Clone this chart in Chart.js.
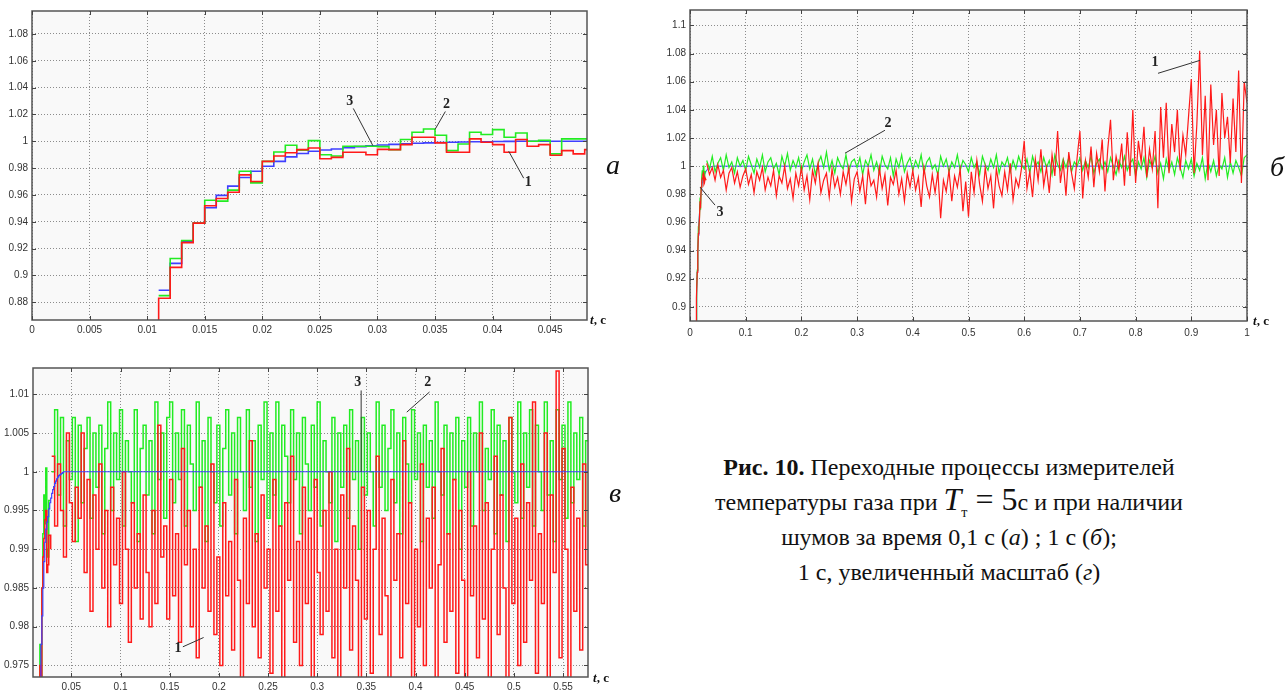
<!DOCTYPE html>
<html>
<head>
<meta charset="utf-8">
<script src="https://cdn.jsdelivr.net/npm/chart.js@4.4.0/dist/chart.umd.min.js"></script>
<style>
    body { margin: 0; background: #fff; width: 1288px; height: 690px; position: relative; overflow: hidden; font-family: "Liberation Serif", "DejaVu Serif", serif; color: #111; }
    canvas { position: absolute; }
    .letter { position: absolute; font-style: italic; font-size: 28px; line-height: 1; transform: translate(-50%, -50%); }
    .tc { position: absolute; font-size: 13px; font-weight: bold; line-height: 1; white-space: nowrap; }
    .cap { position: absolute; left: 669px; width: 560px; height: 35px; line-height: 35px; text-align: center; font-size: 24px; white-space: nowrap; }
    .m { font-size: 32px; line-height: 0; }
    .sub { font-size: 14px; line-height: 0; position: relative; top: 7px; }
</style>
</head>
<body>
<canvas id="chartA" width="620" height="345" style="left:0;top:0"></canvas>
<canvas id="chartB" width="638" height="345" style="left:650px;top:0"></canvas>
<canvas id="chartC" width="620" height="345" style="left:0;top:345px"></canvas>

<div class="letter" style="left:613px;top:165px">а</div>
<div class="letter" style="left:1277px;top:167px">б</div>
<div class="letter" style="left:615px;top:493px">в</div>

<div class="tc" style="left:590px;top:313px"><i>t</i>, с</div>
<div class="tc" style="left:1253px;top:314px"><i>t</i>, с</div>
<div class="tc" style="left:593px;top:671px"><i>t</i>, с</div>

<div class="cap" style="top:450px"><b>Рис. 10.</b> Переходные процессы измерителей</div>
<div class="cap" style="top:485px">температуры газа при <span class="m"><i>T</i></span><span class="sub">т</span><span class="m"> = 5</span>с и при наличии</div>
<div class="cap" style="top:520px">шумов за время 0,1 с (<i>а</i>) ; 1 с (<i>б</i>);</div>
<div class="cap" style="top:555px">1 с, увеличенный масштаб (<i>г</i>)</div>

<script>
// (а) first 0.05 s, sampled every 1 ms
const aTime = [0.011, 0.012, 0.013, 0.014, 0.015, 0.016, 0.017, 0.018, 0.019, 0.020,
    0.021, 0.022, 0.023, 0.024, 0.025, 0.026, 0.027, 0.028, 0.029, 0.030,
    0.031, 0.032, 0.033, 0.034, 0.035, 0.036, 0.037, 0.038, 0.039, 0.040,
    0.041, 0.042, 0.043, 0.044, 0.045, 0.046, 0.047, 0.048, 0.049];
const aBlue = [0.889, 0.909, 0.925, 0.939, 0.9505, 0.9597, 0.9666, 0.973, 0.9777, 0.9814,
    0.985, 0.9884, 0.9909, 0.9926, 0.9935, 0.9942, 0.9952, 0.996, 0.9966, 0.9972,
    0.9977, 0.9981, 0.9985, 0.9988, 0.9991, 0.9993, 0.9995, 0.9996, 0.9997, 0.9998,
    0.9999, 1, 1, 1, 1, 1, 1, 1, 1];
const aGreen = [0.885, 0.9126, 0.926, 0.939, 0.956, 0.9554, 0.9636, 0.9777, 0.969, 0.985,
    0.992, 0.997, 0.9933, 1.0005, 0.990, 0.989, 0.9963, 0.9963, 0.9963, 0.996,
    0.9938, 1.0013, 1.0067, 1.0092, 1.0045, 0.993, 0.998, 1.0067, 1.005, 1.0087,
    1.003, 1.0062, 1.0, 1.0007, 0.9906, 1.0018, 1.0018, 1.0018, 1.0018];
const aRed = [0.883, 0.906, 0.9245, 0.939, 0.952, 0.9574, 0.962, 0.975, 0.970, 0.985,
    0.989, 0.9914, 0.9938, 0.995, 0.987, 0.988, 0.9918, 0.9918, 0.990, 0.994,
    0.9938, 0.9975, 1.003, 1.003, 0.9988, 0.9918, 0.9918, 1.0018, 0.9993, 0.9975,
    0.9918, 1.0013, 0.9963, 0.9975, 0.9896, 0.993, 0.9906, 0.9938, 0.9938];
const redStart = 0.86;      // red comes up from below the axis at 0.011 s
const riseCount = 19;       // samples 0.011..0.029 are shared by (б) and (в)
const steadyT = [1.0];
const steadyV = [1.0];

// (б) noise part, from 0.030 s every 5 ms
const bStart = 0.030, bStep = 0.005;
const bRed = [1.002, 0.994, 0.999, 0.990, 1.001, 0.992, 0.997, 0.983, 0.995, 0.999, 0.988, 0.996, 0.985, 0.993,
    0.998, 0.987, 0.994, 0.981, 0.996, 0.990, 0.999, 0.983, 0.992, 0.986, 0.997, 0.979, 0.993, 0.988, 1.000, 0.984, 0.991, 0.977, 0.995, 0.986,
    0.999, 0.983, 0.993, 0.976, 0.997, 0.988, 1.002, 0.981, 0.990, 0.995, 0.978, 0.998, 0.985, 0.992, 0.980, 0.996, 0.987, 0.999, 0.975, 0.991,
    0.996, 0.982, 0.993, 0.973, 0.998, 0.986, 0.990, 0.978, 0.999, 0.984, 0.994, 0.972, 0.992, 0.987, 0.997, 0.980, 0.991, 0.975, 0.995, 0.985,
    0.997, 0.983, 0.992, 0.971, 0.999, 0.986, 0.978, 0.994, 0.981, 0.996, 0.963, 0.990, 0.982, 0.997, 0.975, 0.993, 0.985, 0.998, 0.968, 0.989,
    0.964, 0.996, 0.981, 1.004, 0.987, 0.975, 0.999, 0.984, 0.993, 0.970, 0.998, 0.986, 0.979, 0.996, 0.983, 1.002, 0.976, 0.991, 0.985, 0.998,
    1.018, 0.984, 0.996, 0.978, 1.005, 0.990, 1.012, 0.986, 0.999, 0.981, 1.008, 0.993, 1.025, 0.988, 1.003, 0.979, 1.010, 0.995, 0.984, 1.006,
    1.025, 0.977, 1.004, 0.992, 1.014, 0.985, 1.009, 0.996, 1.019, 0.982, 1.012, 1.033, 0.990, 1.007, 0.997, 1.016, 0.986, 1.024, 0.993, 1.040,
    0.988, 1.018, 1.003, 1.028, 0.992, 1.012, 0.998, 1.025, 0.970, 1.042, 1.006, 1.045, 0.995, 1.030, 1.010, 1.040, 0.997, 1.022, 1.008, 1.035,
    1.062, 0.995, 1.030, 1.082, 1.008, 1.050, 0.990, 1.058, 1.015, 1.040, 0.993, 1.052, 1.020, 1.035, 1.002, 1.048, 1.010, 1.068, 0.988, 1.060, 1.045];
const bGreen = [1.004, 0.998, 1.007, 0.996, 1.002, 1.006, 0.997, 1.008, 0.999, 1.003, 0.995, 1.006, 1.000, 1.004,
    0.997, 1.007, 1.001, 0.995, 1.005, 0.999, 1.008, 0.996, 1.003, 1.006, 0.998, 1.002, 0.994, 1.007, 1.000, 1.009, 0.997, 1.004, 0.999, 1.006,
    0.996, 1.003, 1.008, 0.998, 1.005, 0.994, 1.002, 1.007, 0.999, 1.010, 0.997, 1.004, 0.995, 1.006, 1.001, 0.998, 1.008, 0.996, 1.003, 1.005,
    0.999, 1.006, 0.994, 1.004, 1.000, 1.008, 0.997, 1.003, 0.995, 1.007, 1.001, 0.998, 1.006, 0.993, 1.005, 0.999, 1.008, 0.996, 1.002, 1.006,
    0.997, 1.004, 0.999, 1.008, 0.995, 1.003, 1.006, 0.998, 1.001, 0.994, 1.007, 1.000, 1.005, 0.996, 1.003, 0.999, 1.008, 0.997, 1.004, 1.001,
    0.996, 1.006, 0.999, 1.003, 0.994, 1.007, 1.001, 0.997, 1.005, 0.999, 1.008, 0.995, 1.003, 1.000, 1.006, 0.996, 1.004, 0.998, 1.007, 1.001,
    0.998, 1.005, 0.995, 1.007, 1.000, 1.003, 0.996, 1.006, 0.999, 1.004, 0.994, 1.008, 1.001, 0.997, 1.005, 0.999, 1.006, 0.996, 1.003, 1.000,
    1.006, 0.997, 1.004, 0.999, 1.007, 0.995, 1.002, 1.005, 0.998, 1.003, 0.996, 1.006, 1.000, 0.994, 1.004, 0.999, 1.007, 0.997, 1.002, 1.005,
    0.993, 1.003, 0.998, 1.006, 0.992, 1.004, 0.999, 1.007, 0.995, 1.002, 0.991, 1.005, 0.997, 1.003, 0.994, 1.006, 0.999, 0.992, 1.004, 0.998,
    1.005, 0.993, 1.002, 0.997, 1.006, 0.991, 1.003, 0.996, 1.004, 0.993, 1.001, 0.998, 1.006, 0.992, 1.003, 0.995, 1.004, 0.999, 0.993, 1.006, 1.008];

// (в) noise part, from 0.030 s every 3 ms
const cStart = 0.030, cStep = 0.003;
const cRed = [1.002, 0.993, 1.001, 0.995, 0.989, 1.005, 0.996, 0.991, 0.998, 0.994, 1.005, 0.987, 0.999, 0.982, 0.997, 0.990, 1.001, 0.985, 0.995, 0.980,
    0.998, 0.988, 0.994, 0.983, 1.000, 0.990, 0.978, 0.996, 0.985, 0.992, 0.981, 0.997, 0.987, 0.980, 0.995, 0.983, 1.006, 0.989, 0.993, 0.981,
    0.999, 0.984, 0.992, 0.978, 1.003, 0.988, 0.995, 0.980, 0.990, 0.976, 0.998, 0.985, 0.993, 0.982, 1.001, 0.979, 0.989, 0.975, 0.996, 0.984,
    0.991, 0.977, 0.999, 0.986, 0.973, 0.994, 0.983, 1.004, 0.980, 0.992, 0.976, 0.997, 0.985, 0.990, 0.974, 0.999, 0.982, 0.993, 0.972, 0.996,
    0.986, 1.002, 0.978, 0.991, 0.975, 0.998, 0.983, 0.994, 0.973, 0.999, 0.987, 0.979, 0.995, 0.982, 1.000, 0.976, 0.990, 0.972, 0.997, 0.985,
    1.003, 0.977, 0.993, 0.986, 0.972, 0.998, 0.981, 0.995, 0.974, 0.990, 1.002, 0.979, 0.994, 0.984, 0.973, 0.999, 0.986, 0.992, 0.976, 1.004,
    0.983, 0.996, 0.972, 0.990, 0.980, 1.001, 0.975, 0.994, 0.985, 0.998, 0.973, 0.988, 1.003, 0.978, 0.992, 0.982, 0.999, 0.974, 0.995, 0.986,
    0.973, 1.000, 0.984, 0.993, 0.976, 1.005, 0.981, 0.996, 0.972, 0.990, 1.002, 0.979, 0.997, 0.985, 0.973, 1.007, 0.983, 0.994, 0.975, 1.001,
    0.978, 0.996, 0.986, 1.009, 0.974, 0.992, 0.983, 1.005, 0.972, 0.997, 0.987, 1.013, 0.976, 1.003, 0.990, 0.973, 0.998, 0.982, 0.994, 0.977, 1.001, 0.988, 0.993];
const cGreen = [1.000, 1.008, 0.997, 1.007, 0.993, 1.004, 0.999, 1.007, 0.991, 1.006, 0.996, 1.003, 1.007, 0.994, 1.005, 0.998, 1.006, 0.992, 1.003, 1.009,
    0.995, 1.005, 0.999, 1.008, 0.993, 1.004, 1.000, 0.996, 1.008, 0.991, 1.003, 1.006, 0.997, 1.004, 0.992, 1.009, 0.999, 1.005, 0.994, 1.007,
    1.009, 0.996, 1.005, 0.999, 1.008, 0.993, 1.006, 1.001, 0.995, 1.009, 0.998, 1.004, 0.991, 1.007, 1.000, 0.996, 1.006, 0.993, 1.003, 1.008,
    0.997, 1.005, 0.992, 1.007, 1.000, 0.995, 1.008, 0.998, 1.004, 0.991, 1.006, 0.999, 1.009, 0.994, 1.005, 0.997, 1.009, 0.993, 1.006, 1.002,
    0.996, 1.008, 0.999, 1.005, 0.992, 1.007, 1.001, 0.995, 1.006, 0.998, 1.009, 0.993, 1.004, 1.000, 0.996, 1.007, 0.991, 1.005, 0.998, 1.006,
    0.994, 1.008, 0.999, 1.004, 0.990, 1.007, 0.997, 1.005, 1.000, 0.993, 1.009, 0.998, 1.006, 0.995, 1.003, 1.008, 0.996, 1.005, 0.992, 1.007,
    1.001, 0.996, 1.008, 0.999, 1.005, 0.991, 1.006, 0.998, 1.004, 0.994, 1.009, 1.000, 0.997, 1.006, 0.992, 1.005, 0.999, 1.007, 0.990, 1.004,
    0.998, 1.007, 0.993, 1.005, 1.000, 1.009, 0.995, 1.003, 0.999, 1.008, 0.992, 1.006, 0.997, 1.004, 0.991, 1.007, 1.000, 0.996, 1.009, 0.994,
    1.005, 0.998, 1.008, 0.993, 1.006, 1.000, 0.995, 1.009, 0.997, 1.004, 0.991, 1.008, 0.999, 1.006, 0.994, 1.009, 0.996, 1.005, 0.999, 1.007, 0.993, 1.004, 1.007];

// axis ticks
const aXTicks = [0, 0.005, 0.01, 0.015, 0.02, 0.025, 0.03, 0.035, 0.04, 0.045];
const aYTicks = [0.88, 0.9, 0.92, 0.94, 0.96, 0.98, 1, 1.02, 1.04, 1.06, 1.08];
const bXTicks = [0, 0.1, 0.2, 0.3, 0.4, 0.5, 0.6, 0.7, 0.8, 0.9, 1];
const bYTicks = [0.9, 0.92, 0.94, 0.96, 0.98, 1, 1.02, 1.04, 1.06, 1.08, 1.1];
const cXTicks = [0.05, 0.1, 0.15, 0.2, 0.25, 0.3, 0.35, 0.4, 0.45, 0.5, 0.55];
const cYTicks = [0.975, 0.98, 0.985, 0.99, 0.995, 1, 1.005, 1.01];

const RED = '#ff1a1a', GREEN = '#22ec22', BLUE = '#3f3fff';

function pts(times, values) {
    return values.map((v, i) => ({x: times[i], y: v}));
}
function sampled(start, step, values) {
    return values.map((v, i) => ({x: +(start + i * step).toFixed(4), y: v}));
}
const riseT = aTime.slice(0, riseCount);

const frame = {
    id: 'frame',
    beforeDraw(chart) {
        const a = chart.chartArea, ctx = chart.ctx;
        ctx.save();
        ctx.fillStyle = '#f9f9f9';
        ctx.fillRect(a.left, a.top, a.width, a.height);
        ctx.restore();
    },
    afterDraw(chart, args, opts) {
        const {ctx, chartArea: a, scales: {x, y}} = chart;
        ctx.save();
        ctx.strokeStyle = '#555';
        ctx.lineWidth = 1.5;
        ctx.strokeRect(a.left, a.top, a.width, a.height);
        ctx.lineWidth = 1;
        ctx.strokeStyle = '#444';
        ctx.beginPath();
        x.ticks.forEach(t => {
            const px = Math.round(x.getPixelForValue(t.value)) + 0.5;
            ctx.moveTo(px, a.bottom); ctx.lineTo(px, a.bottom - 4);
            ctx.moveTo(px, a.top); ctx.lineTo(px, a.top + 4);
        });
        y.ticks.forEach(t => {
            const py = Math.round(y.getPixelForValue(t.value)) + 0.5;
            ctx.moveTo(a.left, py); ctx.lineTo(a.left + 4, py);
            ctx.moveTo(a.right, py); ctx.lineTo(a.right - 4, py);
        });
        ctx.stroke();

        ctx.strokeStyle = '#333';
        ctx.fillStyle = '#222';
        ctx.font = 'bold 14px "Liberation Serif"';
        ctx.textAlign = 'center';
        ctx.textBaseline = 'middle';
        (opts.notes || []).forEach(n => {
            ctx.beginPath();
            ctx.moveTo(x.getPixelForValue(n.line[0]), y.getPixelForValue(n.line[1]));
            ctx.lineTo(x.getPixelForValue(n.line[2]), y.getPixelForValue(n.line[3]));
            ctx.stroke();
            ctx.fillText(n.text, x.getPixelForValue(n.at[0]), y.getPixelForValue(n.at[1]));
        });
        ctx.restore();
    }
};

function axes(xMin, xMax, xTicks, xHeight, xPad, yMin, yMax, yTicks, yWidth) {
    const fmt = v => String(+(+v).toFixed(4));
    const common = {
        grid: {color: '#8c8c8c', lineWidth: 1, drawTicks: false},
        border: {display: false, dash: [1, 2]}
    };
    return {
        x: Object.assign({
            type: 'linear', min: xMin, max: xMax,
            afterBuildTicks: s => { s.ticks = xTicks.map(v => ({value: v})); },
            afterFit: s => { s.height = xHeight; },
            ticks: {callback: fmt, font: {family: 'Liberation Sans', size: 10}, color: '#333', padding: xPad, maxRotation: 0, autoSkip: false}
        }, common),
        y: Object.assign({
            type: 'linear', min: yMin, max: yMax,
            afterBuildTicks: s => { s.ticks = yTicks.map(v => ({value: v})); },
            afterFit: s => { s.width = yWidth; },
            ticks: {callback: fmt, font: {family: 'Liberation Sans', size: 10}, color: '#333', padding: 4, autoSkip: false}
        }, common)
    };
}

function line(data, color, width, stepped) {
    return {data: data, borderColor: color, borderWidth: width, pointRadius: 0, stepped: stepped, fill: false};
}

function draw(id, datasets, scales, padding, notes) {
    const ctx = document.getElementById(id).getContext('2d');
    new Chart(ctx, {
        type: 'line',
        data: {datasets: datasets},
        options: {
            responsive: false,
            animation: false,
            devicePixelRatio: 1,
            events: [],
            layout: {padding: padding},
            scales: scales,
            plugins: {legend: {display: false}, tooltip: {enabled: false}, frame: {notes: notes}}
        },
        plugins: [frame]
    });
}

// (а)
draw('chartA', [
    line([{x: aTime[0], y: redStart}].concat(pts(aTime, aRed)), RED, 1.6, true),
    line(pts(aTime, aGreen), GREEN, 1.6, true),
    line(pts(aTime, aBlue), BLUE, 1.6, true)
], axes(0, 0.0482, aXTicks, 25, 4, 0.8668, 1.0971, aYTicks, 32),
{left: 0, top: 11, right: 33, bottom: 0}, [
    {text: '3', at: [0.0276, 1.0295], line: [0.0279, 1.0245, 0.0296, 0.9968]},
    {text: '2', at: [0.0360, 1.0273], line: [0.0359, 1.0222, 0.0350, 1.0088]},
    {text: '1', at: [0.0431, 0.9695], line: [0.0414, 0.9926, 0.0427, 0.9725]}
]);

// (б)
draw('chartB', [
    line([{x: aTime[0], y: redStart}].concat(pts(riseT, aRed), sampled(bStart, bStep, bRed)), RED, 1.2, false),
    line(pts(riseT, aGreen).concat(sampled(bStart, bStep, bGreen)), GREEN, 1.2, false),
    line(pts(aTime, aBlue).concat(pts(steadyT, steadyV)), BLUE, 1, false)
], axes(0, 1, bXTicks, 24, 6, 0.8899, 1.111, bYTicks, 40),
{left: 0, top: 10, right: 41, bottom: 0}, [
    {text: '2', at: [0.3555, 1.0305], line: [0.350, 1.0255, 0.2783, 1.0092]},
    {text: '3', at: [0.0539, 0.9674], line: [0.0449, 0.9723, 0.018, 0.9851]},
    {text: '1', at: [0.835, 1.0737], line: [0.8402, 1.066, 0.9156, 1.0752]}
]);

// (в)
draw('chartC', [
    line(pts(aTime, aBlue).concat(pts(steadyT, steadyV)), BLUE, 1.2, true),
    line([{x: aTime[0], y: redStart}].concat(pts(riseT, aRed), sampled(cStart, cStep, cRed)), RED, 1.5, true),
    line(pts(riseT, aGreen).concat(sampled(cStart, cStep, cGreen)), GREEN, 1.5, true)
], axes(0.011, 0.5754, cXTicks, 13, 4, 0.9735, 1.0134, cYTicks, 33),
{left: 0, top: 23, right: 32, bottom: 0}, [
    {text: '3', at: [0.3413, 1.0116], line: [0.3447, 1.0105, 0.3447, 1.0]},
    {text: '2', at: [0.4124, 1.0116], line: [0.4142, 1.0103, 0.3911, 1.0077]},
    {text: '1', at: [0.1584, 0.9772], line: [0.1634, 0.9774, 0.1845, 0.9786]}
]);
</script>
</body>
</html>
